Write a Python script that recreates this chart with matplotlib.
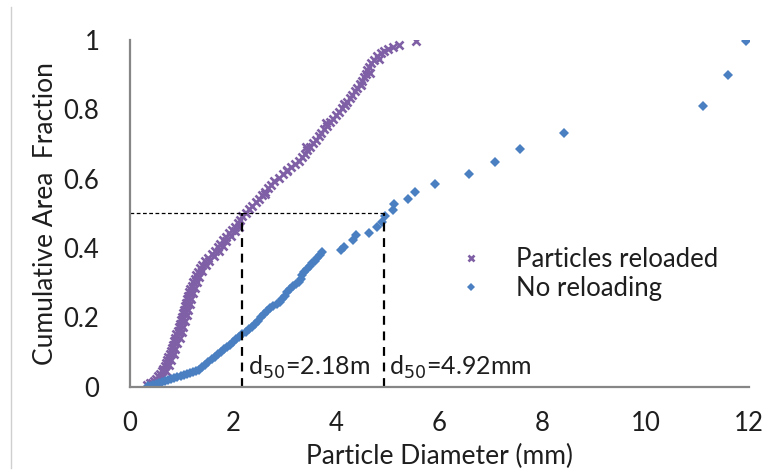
import matplotlib.pyplot as plt

# purple series: particles reloaded
reload_x = [0.33, 0.38, 0.42, 0.47, 0.50, 0.55, 0.58, 0.62, 0.64, 0.67, 0.70, 0.72, 0.74, 0.77,
            0.79, 0.81, 0.83, 0.86, 0.88, 0.90, 0.93, 0.95, 0.97, 0.99, 1.01, 1.03, 1.05, 1.07,
            1.09, 1.11, 1.13, 1.15, 1.17, 1.20, 1.22, 1.25, 1.28, 1.31, 1.35, 1.40, 1.46, 1.52,
            1.58, 1.64, 1.70, 1.75, 1.80, 1.86, 1.92, 1.98, 2.04, 2.09, 2.13, 2.18, 2.24, 2.30,
            2.37, 2.44, 2.50, 2.56, 2.62, 2.68, 2.74, 2.80, 2.88, 2.96, 3.04, 3.12, 3.20, 3.27,
            3.33, 3.39, 3.44, 3.49, 3.54, 3.60, 3.66, 3.71, 3.76, 3.82, 3.88, 3.94, 4.00, 4.06,
            4.11, 4.16, 4.21, 4.26, 4.31, 4.36, 4.41, 4.46, 4.50, 4.53, 4.57, 4.60, 4.64, 4.68,
            4.73, 4.79, 4.86, 4.93, 5.00, 5.10, 5.22, 5.55,
            # right edge of the thick band in the steep part
            0.48, 0.54, 0.63, 0.70, 0.75, 0.80, 0.85, 0.88, 0.92, 0.96, 1.00, 1.03, 1.07, 1.10,
            1.13, 1.16, 1.19, 1.23, 1.26, 1.30, 1.34, 1.39, 1.47, 1.54, 1.63, 1.72, 1.80, 1.87,
            1.95, 2.04, 2.12,
            # scattered marks along the upper part
            2.62, 3.05, 3.42, 3.80, 4.15, 4.48, 4.66, 4.82]
reload_y = [0.005, 0.010, 0.012, 0.018, 0.022, 0.030, 0.036, 0.045, 0.052, 0.060, 0.070, 0.078,
            0.086, 0.095, 0.104, 0.113, 0.122, 0.132, 0.142, 0.152, 0.162, 0.172, 0.182, 0.192,
            0.202, 0.212, 0.222, 0.232, 0.242, 0.252, 0.262, 0.272, 0.282, 0.292, 0.302, 0.312,
            0.322, 0.332, 0.342, 0.352, 0.362, 0.372, 0.382, 0.392, 0.402, 0.412, 0.422, 0.432,
            0.442, 0.452, 0.462, 0.472, 0.482, 0.492, 0.502, 0.512, 0.522, 0.532, 0.542, 0.552,
            0.562, 0.572, 0.582, 0.592, 0.602, 0.612, 0.622, 0.632, 0.642, 0.652, 0.662, 0.672,
            0.682, 0.692, 0.702, 0.712, 0.722, 0.732, 0.742, 0.752, 0.762, 0.772, 0.782, 0.792,
            0.802, 0.812, 0.822, 0.832, 0.842, 0.852, 0.862, 0.872, 0.882, 0.892, 0.902, 0.912,
            0.922, 0.932, 0.942, 0.952, 0.962, 0.968, 0.972, 0.980, 0.985, 0.995,
            0.008, 0.016, 0.030, 0.045, 0.062, 0.078, 0.095, 0.110, 0.126, 0.142, 0.158, 0.174,
            0.190, 0.206, 0.222, 0.238, 0.254, 0.270, 0.286, 0.302, 0.318, 0.334, 0.350, 0.364,
            0.378, 0.392, 0.406, 0.420, 0.434, 0.448, 0.462,
            0.555, 0.625, 0.690, 0.760, 0.815, 0.870, 0.905, 0.945]

# blue series: no reloading
noreload_x = [0.35, 0.40, 0.45, 0.50, 0.56, 0.62, 0.68, 0.74, 0.80, 0.86, 0.92, 0.98, 1.04, 1.10,
              1.16, 1.22, 1.28, 1.34, 1.40, 1.46, 1.52, 1.58, 1.64, 1.70, 1.76, 1.82, 1.88, 1.94,
              2.00, 2.06, 2.12, 2.18, 2.24, 2.30, 2.36, 2.42, 2.48, 2.54, 2.60, 2.66, 2.72, 2.78,
              2.84, 2.90, 2.95, 3.00, 3.05, 3.10, 3.15, 3.22, 3.28, 3.31, 3.34, 3.38, 3.43, 3.48,
              3.53, 3.58, 3.63, 3.68, 3.72, 4.09, 4.14, 4.33, 4.39, 4.63, 4.78, 4.88, 4.95, 5.10,
              5.12, 5.39, 5.52, 5.92, 6.57, 7.08, 7.57, 8.42, 11.11, 11.59, 11.95]
noreload_y = [0.002, 0.004, 0.006, 0.008, 0.011, 0.013, 0.016, 0.019, 0.022, 0.025, 0.028, 0.031,
              0.034, 0.037, 0.040, 0.043, 0.046, 0.050, 0.056, 0.064, 0.072, 0.080, 0.087, 0.094,
              0.101, 0.108, 0.115, 0.122, 0.130, 0.137, 0.144, 0.151, 0.158, 0.166, 0.174, 0.182,
              0.191, 0.200, 0.209, 0.218, 0.226, 0.234, 0.240, 0.246, 0.253, 0.262, 0.272, 0.282,
              0.290, 0.296, 0.302, 0.312, 0.322, 0.332, 0.341, 0.349, 0.357, 0.364, 0.372, 0.380,
              0.389, 0.394, 0.403, 0.422, 0.437, 0.444, 0.461, 0.475, 0.491, 0.509, 0.526, 0.542,
              0.561, 0.585, 0.612, 0.647, 0.685, 0.730, 0.810, 0.899, 0.995]

d50_reload = 2.18
d50_noreload = 4.92
xticks = [0, 2, 4, 6, 8, 10, 12]
yticks = [0, 0.2, 0.4, 0.6, 0.8, 1]
ytick_labels = ['0', '0.2', '0.4', '0.6', '0.8', '1']

purple = '#7f5fa5'
blue = '#4a7fc1'
grey = '#868686'
txt = '#1e1e1e'
plt.rcParams['font.family'] = ['Lato', 'DejaVu Sans']

fig = plt.figure(figsize=(7.65, 4.73), dpi=100)
ax = fig.add_axes([0.170, 0.182, 0.809, 0.734])

ax.plot(reload_x, reload_y, ls='none', marker='x', ms=5.5, mew=1.9, color=purple,
        label='Particles reloaded')
ax.plot(noreload_x, noreload_y, ls='none', marker='D', ms=4.8, mew=0, color=blue,
        label='No reloading')

# d50 guide lines
ax.plot([0, d50_noreload], [0.5, 0.5], ls=(0, (3, 2)), lw=0.9, color='black')
ax.plot([d50_reload, d50_reload], [0, 0.5], ls=(0, (4, 3)), lw=1.6, color='black')
ax.plot([d50_noreload, d50_noreload], [0, 0.5], ls=(0, (4, 3)), lw=1.6, color='black')
ax.text(d50_reload + 0.1, 0.055, 'd$_{50}$=2.18m', fontsize=18, color=txt, va='center')
ax.text(d50_noreload + 0.1, 0.055, 'd$_{50}$=4.92mm', fontsize=18, color=txt, va='center')

ax.set_xlim(0, 12)
ax.set_ylim(0, 1)
ax.set_xticks(xticks)
ax.set_yticks(yticks)
ax.set_yticklabels(ytick_labels)
ax.tick_params(length=0, labelsize=18.5, colors=txt)
ax.tick_params(axis='y', pad=22)
ax.tick_params(axis='x', pad=17)
for s in ['top', 'right']:
    ax.spines[s].set_visible(False)
for s in ['left', 'bottom']:
    ax.spines[s].set_color(grey)
    ax.spines[s].set_linewidth(1.6)

ax.set_xlabel('Particle Diameter (mm)', fontsize=19, color=txt, labelpad=6)
ax.set_ylabel('Cumulative Area  Fraction', fontsize=19, color=txt, labelpad=4)

leg = ax.legend(loc='upper left', bbox_to_anchor=(0.49, 0.455), frameon=False, fontsize=18.5,
                handletextpad=1.0, labelspacing=0.15, handlelength=1.5, markerscale=0.85,
                borderpad=0.2)
for t in leg.get_texts():
    t.set_color(txt)

# outer chart border on the left edge
fig.add_artist(plt.Line2D([11 / 765, 11 / 765], [0.01, 0.985], color='#cfcfcf', lw=1))

fig.savefig('out.png', dpi=100)
